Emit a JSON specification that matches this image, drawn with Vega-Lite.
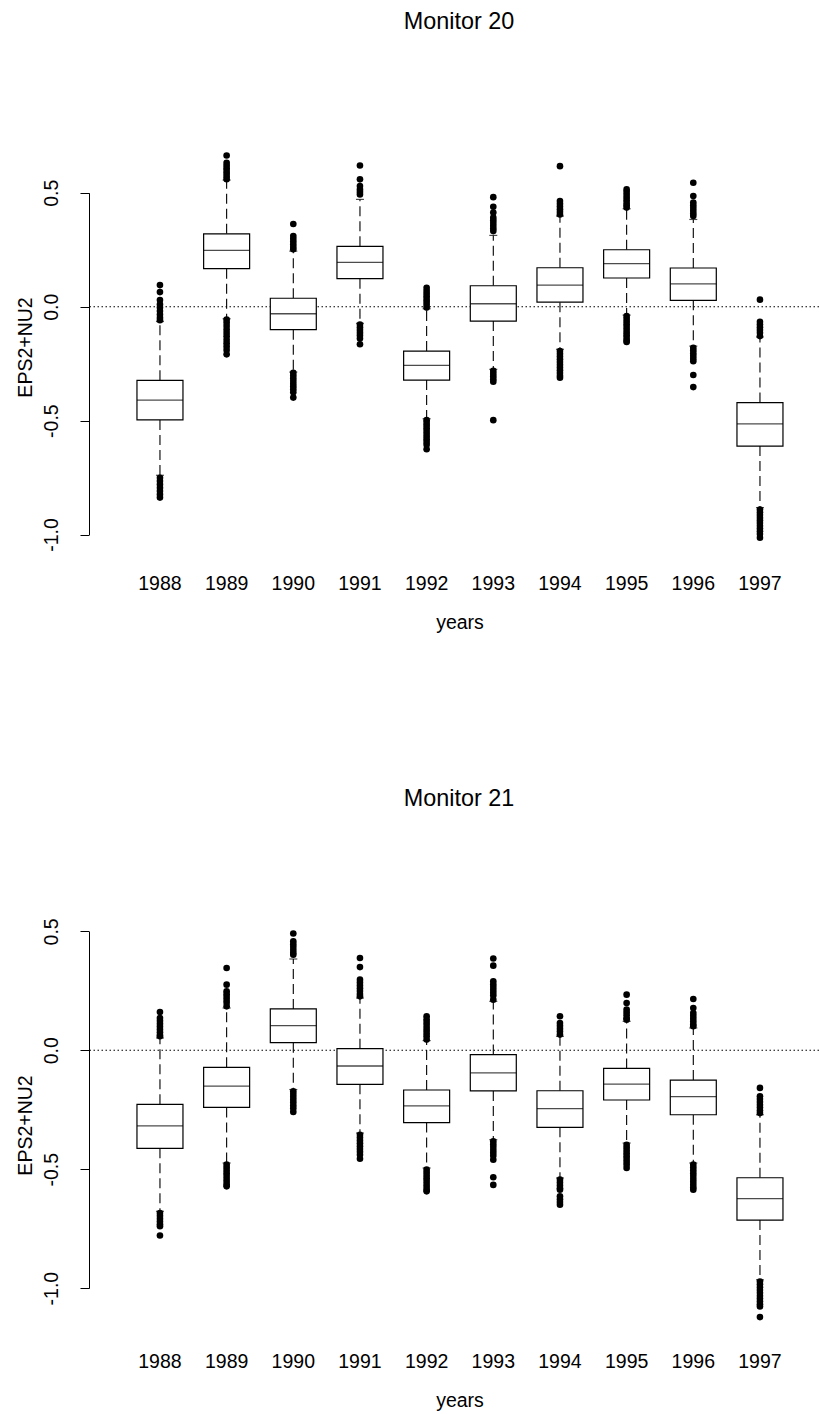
{
  "$schema": "https://vega.github.io/schema/vega-lite/v6.json",
  "padding": {"left": 15, "top": 9, "right": 0, "bottom": 0},
  "spacing": 154,
  "background": "white",
  "config": {
    "view": {"stroke": null},
    "font": "Liberation Sans",
    "axis": {
      "labelFont": "Liberation Sans", "titleFont": "Liberation Sans",
      "labelFontSize": 19.5, "titleFontSize": 19.5,
      "labelColor": "black", "titleColor": "black", "titleFontWeight": "normal",
      "grid": false, "domainColor": "black", "tickColor": "black", "domainWidth": 1, "tickWidth": 1
    },
    "title": {"font": "Liberation Sans", "fontSize": 23.4, "fontWeight": "normal", "color": "black", "baseline": "top", "anchor": "middle", "dx": 5}
  },
  "datasets": {
    "boxes": [
      {"panel": "Monitor 20", "year": "1988", "lo": -0.740, "q1": -0.497, "med": -0.410, "q3": -0.323, "hi": -0.065},
      {"panel": "Monitor 20", "year": "1989", "lo": -0.053, "q1": 0.167, "med": 0.247, "q3": 0.320, "hi": 0.556},
      {"panel": "Monitor 20", "year": "1990", "lo": -0.287, "q1": -0.101, "med": -0.031, "q3": 0.037, "hi": 0.244},
      {"panel": "Monitor 20", "year": "1991", "lo": -0.073, "q1": 0.123, "med": 0.195, "q3": 0.265, "hi": 0.471},
      {"panel": "Monitor 20", "year": "1992", "lo": -0.492, "q1": -0.322, "med": -0.258, "q3": -0.195, "hi": -0.009},
      {"panel": "Monitor 20", "year": "1993", "lo": -0.275, "q1": -0.063, "med": 0.013, "q3": 0.092, "hi": 0.313},
      {"panel": "Monitor 20", "year": "1994", "lo": -0.187, "q1": 0.020, "med": 0.095, "q3": 0.171, "hi": 0.398},
      {"panel": "Monitor 20", "year": "1995", "lo": -0.037, "q1": 0.126, "med": 0.189, "q3": 0.250, "hi": 0.430},
      {"panel": "Monitor 20", "year": "1996", "lo": -0.173, "q1": 0.028, "med": 0.100, "q3": 0.170, "hi": 0.383},
      {"panel": "Monitor 20", "year": "1997", "lo": -0.882, "q1": -0.612, "med": -0.514, "q3": -0.421, "hi": -0.133},
      {"panel": "Monitor 21", "year": "1988", "lo": -0.677, "q1": -0.412, "med": -0.318, "q3": -0.227, "hi": 0.052},
      {"panel": "Monitor 21", "year": "1989", "lo": -0.474, "q1": -0.240, "med": -0.151, "q3": -0.0715, "hi": 0.178},
      {"panel": "Monitor 21", "year": "1990", "lo": -0.165, "q1": 0.032, "med": 0.104, "q3": 0.174, "hi": 0.384},
      {"panel": "Monitor 21", "year": "1991", "lo": -0.348, "q1": -0.143, "med": -0.066, "q3": 0.007, "hi": 0.220},
      {"panel": "Monitor 21", "year": "1992", "lo": -0.495, "q1": -0.304, "med": -0.234, "q3": -0.167, "hi": 0.041},
      {"panel": "Monitor 21", "year": "1993", "lo": -0.376, "q1": -0.171, "med": -0.095, "q3": -0.018, "hi": 0.206},
      {"panel": "Monitor 21", "year": "1994", "lo": -0.537, "q1": -0.324, "med": -0.245, "q3": -0.170, "hi": 0.059},
      {"panel": "Monitor 21", "year": "1995", "lo": -0.390, "q1": -0.209, "med": -0.142, "q3": -0.076, "hi": 0.122},
      {"panel": "Monitor 21", "year": "1996", "lo": -0.474, "q1": -0.271, "med": -0.195, "q3": -0.125, "hi": 0.094},
      {"panel": "Monitor 21", "year": "1997", "lo": -0.965, "q1": -0.714, "med": -0.624, "q3": -0.536, "hi": -0.271}
    ],
    "outliers": [
      {"panel": "Monitor 20", "year": "1988", "v": 0.095}, {"panel": "Monitor 20", "year": "1988", "v": 0.064}, {"panel": "Monitor 20", "year": "1988", "v": 0.029}, {"panel": "Monitor 20", "year": "1988", "v": 0.010}, {"panel": "Monitor 20", "year": "1988", "v": -0.004}, {"panel": "Monitor 20", "year": "1988", "v": -0.019}, {"panel": "Monitor 20", "year": "1988", "v": -0.034}, {"panel": "Monitor 20", "year": "1988", "v": -0.048}, {"panel": "Monitor 20", "year": "1988", "v": -0.059},
      {"panel": "Monitor 20", "year": "1988", "v": -0.751}, {"panel": "Monitor 20", "year": "1988", "v": -0.765}, {"panel": "Monitor 20", "year": "1988", "v": -0.780}, {"panel": "Monitor 20", "year": "1988", "v": -0.795}, {"panel": "Monitor 20", "year": "1988", "v": -0.809}, {"panel": "Monitor 20", "year": "1988", "v": -0.824}, {"panel": "Monitor 20", "year": "1988", "v": -0.838},
      {"panel": "Monitor 20", "year": "1989", "v": 0.664}, {"panel": "Monitor 20", "year": "1989", "v": 0.632}, {"panel": "Monitor 20", "year": "1989", "v": 0.620}, {"panel": "Monitor 20", "year": "1989", "v": 0.608}, {"panel": "Monitor 20", "year": "1989", "v": 0.596}, {"panel": "Monitor 20", "year": "1989", "v": 0.584}, {"panel": "Monitor 20", "year": "1989", "v": 0.572}, {"panel": "Monitor 20", "year": "1989", "v": 0.560},
      {"panel": "Monitor 20", "year": "1989", "v": -0.056}, {"panel": "Monitor 20", "year": "1989", "v": -0.070}, {"panel": "Monitor 20", "year": "1989", "v": -0.085}, {"panel": "Monitor 20", "year": "1989", "v": -0.100}, {"panel": "Monitor 20", "year": "1989", "v": -0.115}, {"panel": "Monitor 20", "year": "1989", "v": -0.130}, {"panel": "Monitor 20", "year": "1989", "v": -0.145}, {"panel": "Monitor 20", "year": "1989", "v": -0.160}, {"panel": "Monitor 20", "year": "1989", "v": -0.175}, {"panel": "Monitor 20", "year": "1989", "v": -0.190}, {"panel": "Monitor 20", "year": "1989", "v": -0.209},
      {"panel": "Monitor 20", "year": "1990", "v": 0.363}, {"panel": "Monitor 20", "year": "1990", "v": 0.310}, {"panel": "Monitor 20", "year": "1990", "v": 0.298}, {"panel": "Monitor 20", "year": "1990", "v": 0.286}, {"panel": "Monitor 20", "year": "1990", "v": 0.274}, {"panel": "Monitor 20", "year": "1990", "v": 0.262}, {"panel": "Monitor 20", "year": "1990", "v": 0.252},
      {"panel": "Monitor 20", "year": "1990", "v": -0.290}, {"panel": "Monitor 20", "year": "1990", "v": -0.302}, {"panel": "Monitor 20", "year": "1990", "v": -0.314}, {"panel": "Monitor 20", "year": "1990", "v": -0.326}, {"panel": "Monitor 20", "year": "1990", "v": -0.338}, {"panel": "Monitor 20", "year": "1990", "v": -0.350}, {"panel": "Monitor 20", "year": "1990", "v": -0.362}, {"panel": "Monitor 20", "year": "1990", "v": -0.375}, {"panel": "Monitor 20", "year": "1990", "v": -0.399},
      {"panel": "Monitor 20", "year": "1991", "v": 0.620}, {"panel": "Monitor 20", "year": "1991", "v": 0.559}, {"panel": "Monitor 20", "year": "1991", "v": 0.530}, {"panel": "Monitor 20", "year": "1991", "v": 0.515}, {"panel": "Monitor 20", "year": "1991", "v": 0.504}, {"panel": "Monitor 20", "year": "1991", "v": 0.493},
      {"panel": "Monitor 20", "year": "1991", "v": -0.078}, {"panel": "Monitor 20", "year": "1991", "v": -0.090}, {"panel": "Monitor 20", "year": "1991", "v": -0.102}, {"panel": "Monitor 20", "year": "1991", "v": -0.114}, {"panel": "Monitor 20", "year": "1991", "v": -0.126}, {"panel": "Monitor 20", "year": "1991", "v": -0.140}, {"panel": "Monitor 20", "year": "1991", "v": -0.165},
      {"panel": "Monitor 20", "year": "1992", "v": 0.083}, {"panel": "Monitor 20", "year": "1992", "v": 0.070}, {"panel": "Monitor 20", "year": "1992", "v": 0.058}, {"panel": "Monitor 20", "year": "1992", "v": 0.046}, {"panel": "Monitor 20", "year": "1992", "v": 0.034}, {"panel": "Monitor 20", "year": "1992", "v": 0.022}, {"panel": "Monitor 20", "year": "1992", "v": 0.010}, {"panel": "Monitor 20", "year": "1992", "v": -0.004},
      {"panel": "Monitor 20", "year": "1992", "v": -0.498}, {"panel": "Monitor 20", "year": "1992", "v": -0.510}, {"panel": "Monitor 20", "year": "1992", "v": -0.522}, {"panel": "Monitor 20", "year": "1992", "v": -0.534}, {"panel": "Monitor 20", "year": "1992", "v": -0.546}, {"panel": "Monitor 20", "year": "1992", "v": -0.558}, {"panel": "Monitor 20", "year": "1992", "v": -0.570}, {"panel": "Monitor 20", "year": "1992", "v": -0.582}, {"panel": "Monitor 20", "year": "1992", "v": -0.594}, {"panel": "Monitor 20", "year": "1992", "v": -0.606}, {"panel": "Monitor 20", "year": "1992", "v": -0.626},
      {"panel": "Monitor 20", "year": "1993", "v": 0.481}, {"panel": "Monitor 20", "year": "1993", "v": 0.439}, {"panel": "Monitor 20", "year": "1993", "v": 0.413}, {"panel": "Monitor 20", "year": "1993", "v": 0.391}, {"panel": "Monitor 20", "year": "1993", "v": 0.379}, {"panel": "Monitor 20", "year": "1993", "v": 0.367}, {"panel": "Monitor 20", "year": "1993", "v": 0.355}, {"panel": "Monitor 20", "year": "1993", "v": 0.343}, {"panel": "Monitor 20", "year": "1993", "v": 0.332},
      {"panel": "Monitor 20", "year": "1993", "v": -0.282}, {"panel": "Monitor 20", "year": "1993", "v": -0.294}, {"panel": "Monitor 20", "year": "1993", "v": -0.306}, {"panel": "Monitor 20", "year": "1993", "v": -0.318}, {"panel": "Monitor 20", "year": "1993", "v": -0.329}, {"panel": "Monitor 20", "year": "1993", "v": -0.498},
      {"panel": "Monitor 20", "year": "1994", "v": 0.617}, {"panel": "Monitor 20", "year": "1994", "v": 0.464}, {"panel": "Monitor 20", "year": "1994", "v": 0.452}, {"panel": "Monitor 20", "year": "1994", "v": 0.440}, {"panel": "Monitor 20", "year": "1994", "v": 0.428}, {"panel": "Monitor 20", "year": "1994", "v": 0.416}, {"panel": "Monitor 20", "year": "1994", "v": 0.405},
      {"panel": "Monitor 20", "year": "1994", "v": -0.195}, {"panel": "Monitor 20", "year": "1994", "v": -0.207}, {"panel": "Monitor 20", "year": "1994", "v": -0.219}, {"panel": "Monitor 20", "year": "1994", "v": -0.231}, {"panel": "Monitor 20", "year": "1994", "v": -0.243}, {"panel": "Monitor 20", "year": "1994", "v": -0.255}, {"panel": "Monitor 20", "year": "1994", "v": -0.267}, {"panel": "Monitor 20", "year": "1994", "v": -0.279}, {"panel": "Monitor 20", "year": "1994", "v": -0.291}, {"panel": "Monitor 20", "year": "1994", "v": -0.303}, {"panel": "Monitor 20", "year": "1994", "v": -0.312},
      {"panel": "Monitor 20", "year": "1995", "v": 0.515}, {"panel": "Monitor 20", "year": "1995", "v": 0.503}, {"panel": "Monitor 20", "year": "1995", "v": 0.491}, {"panel": "Monitor 20", "year": "1995", "v": 0.479}, {"panel": "Monitor 20", "year": "1995", "v": 0.467}, {"panel": "Monitor 20", "year": "1995", "v": 0.455}, {"panel": "Monitor 20", "year": "1995", "v": 0.445}, {"panel": "Monitor 20", "year": "1995", "v": 0.435},
      {"panel": "Monitor 20", "year": "1995", "v": -0.041}, {"panel": "Monitor 20", "year": "1995", "v": -0.053}, {"panel": "Monitor 20", "year": "1995", "v": -0.065}, {"panel": "Monitor 20", "year": "1995", "v": -0.077}, {"panel": "Monitor 20", "year": "1995", "v": -0.089}, {"panel": "Monitor 20", "year": "1995", "v": -0.101}, {"panel": "Monitor 20", "year": "1995", "v": -0.113}, {"panel": "Monitor 20", "year": "1995", "v": -0.125}, {"panel": "Monitor 20", "year": "1995", "v": -0.137}, {"panel": "Monitor 20", "year": "1995", "v": -0.149}, {"panel": "Monitor 20", "year": "1995", "v": -0.155},
      {"panel": "Monitor 20", "year": "1996", "v": 0.544}, {"panel": "Monitor 20", "year": "1996", "v": 0.486}, {"panel": "Monitor 20", "year": "1996", "v": 0.457}, {"panel": "Monitor 20", "year": "1996", "v": 0.445}, {"panel": "Monitor 20", "year": "1996", "v": 0.433}, {"panel": "Monitor 20", "year": "1996", "v": 0.421}, {"panel": "Monitor 20", "year": "1996", "v": 0.409}, {"panel": "Monitor 20", "year": "1996", "v": 0.398},
      {"panel": "Monitor 20", "year": "1996", "v": -0.180}, {"panel": "Monitor 20", "year": "1996", "v": -0.192}, {"panel": "Monitor 20", "year": "1996", "v": -0.204}, {"panel": "Monitor 20", "year": "1996", "v": -0.216}, {"panel": "Monitor 20", "year": "1996", "v": -0.228}, {"panel": "Monitor 20", "year": "1996", "v": -0.239}, {"panel": "Monitor 20", "year": "1996", "v": -0.300}, {"panel": "Monitor 20", "year": "1996", "v": -0.353},
      {"panel": "Monitor 20", "year": "1997", "v": 0.031}, {"panel": "Monitor 20", "year": "1997", "v": -0.066}, {"panel": "Monitor 20", "year": "1997", "v": -0.078}, {"panel": "Monitor 20", "year": "1997", "v": -0.090}, {"panel": "Monitor 20", "year": "1997", "v": -0.102}, {"panel": "Monitor 20", "year": "1997", "v": -0.114}, {"panel": "Monitor 20", "year": "1997", "v": -0.129},
      {"panel": "Monitor 20", "year": "1997", "v": -0.890}, {"panel": "Monitor 20", "year": "1997", "v": -0.902}, {"panel": "Monitor 20", "year": "1997", "v": -0.914}, {"panel": "Monitor 20", "year": "1997", "v": -0.926}, {"panel": "Monitor 20", "year": "1997", "v": -0.938}, {"panel": "Monitor 20", "year": "1997", "v": -0.950}, {"panel": "Monitor 20", "year": "1997", "v": -0.962}, {"panel": "Monitor 20", "year": "1997", "v": -0.974}, {"panel": "Monitor 20", "year": "1997", "v": -0.986}, {"panel": "Monitor 20", "year": "1997", "v": -0.998}, {"panel": "Monitor 20", "year": "1997", "v": -1.014},

      {"panel": "Monitor 21", "year": "1988", "v": 0.161}, {"panel": "Monitor 21", "year": "1988", "v": 0.136}, {"panel": "Monitor 21", "year": "1988", "v": 0.124}, {"panel": "Monitor 21", "year": "1988", "v": 0.112}, {"panel": "Monitor 21", "year": "1988", "v": 0.100}, {"panel": "Monitor 21", "year": "1988", "v": 0.088}, {"panel": "Monitor 21", "year": "1988", "v": 0.076}, {"panel": "Monitor 21", "year": "1988", "v": 0.064}, {"panel": "Monitor 21", "year": "1988", "v": 0.059},
      {"panel": "Monitor 21", "year": "1988", "v": -0.684}, {"panel": "Monitor 21", "year": "1988", "v": -0.696}, {"panel": "Monitor 21", "year": "1988", "v": -0.708}, {"panel": "Monitor 21", "year": "1988", "v": -0.720}, {"panel": "Monitor 21", "year": "1988", "v": -0.732}, {"panel": "Monitor 21", "year": "1988", "v": -0.740}, {"panel": "Monitor 21", "year": "1988", "v": -0.779},
      {"panel": "Monitor 21", "year": "1989", "v": 0.346}, {"panel": "Monitor 21", "year": "1989", "v": 0.276}, {"panel": "Monitor 21", "year": "1989", "v": 0.248}, {"panel": "Monitor 21", "year": "1989", "v": 0.236}, {"panel": "Monitor 21", "year": "1989", "v": 0.224}, {"panel": "Monitor 21", "year": "1989", "v": 0.212}, {"panel": "Monitor 21", "year": "1989", "v": 0.200}, {"panel": "Monitor 21", "year": "1989", "v": 0.185},
      {"panel": "Monitor 21", "year": "1989", "v": -0.481}, {"panel": "Monitor 21", "year": "1989", "v": -0.493}, {"panel": "Monitor 21", "year": "1989", "v": -0.505}, {"panel": "Monitor 21", "year": "1989", "v": -0.517}, {"panel": "Monitor 21", "year": "1989", "v": -0.529}, {"panel": "Monitor 21", "year": "1989", "v": -0.541}, {"panel": "Monitor 21", "year": "1989", "v": -0.553}, {"panel": "Monitor 21", "year": "1989", "v": -0.565}, {"panel": "Monitor 21", "year": "1989", "v": -0.572},
      {"panel": "Monitor 21", "year": "1990", "v": 0.491}, {"panel": "Monitor 21", "year": "1990", "v": 0.458}, {"panel": "Monitor 21", "year": "1990", "v": 0.446}, {"panel": "Monitor 21", "year": "1990", "v": 0.434}, {"panel": "Monitor 21", "year": "1990", "v": 0.422}, {"panel": "Monitor 21", "year": "1990", "v": 0.410}, {"panel": "Monitor 21", "year": "1990", "v": 0.402},
      {"panel": "Monitor 21", "year": "1990", "v": -0.172}, {"panel": "Monitor 21", "year": "1990", "v": -0.184}, {"panel": "Monitor 21", "year": "1990", "v": -0.196}, {"panel": "Monitor 21", "year": "1990", "v": -0.208}, {"panel": "Monitor 21", "year": "1990", "v": -0.220}, {"panel": "Monitor 21", "year": "1990", "v": -0.232}, {"panel": "Monitor 21", "year": "1990", "v": -0.244}, {"panel": "Monitor 21", "year": "1990", "v": -0.259},
      {"panel": "Monitor 21", "year": "1991", "v": 0.388}, {"panel": "Monitor 21", "year": "1991", "v": 0.350}, {"panel": "Monitor 21", "year": "1991", "v": 0.297}, {"panel": "Monitor 21", "year": "1991", "v": 0.285}, {"panel": "Monitor 21", "year": "1991", "v": 0.273}, {"panel": "Monitor 21", "year": "1991", "v": 0.261}, {"panel": "Monitor 21", "year": "1991", "v": 0.249}, {"panel": "Monitor 21", "year": "1991", "v": 0.237}, {"panel": "Monitor 21", "year": "1991", "v": 0.227},
      {"panel": "Monitor 21", "year": "1991", "v": -0.355}, {"panel": "Monitor 21", "year": "1991", "v": -0.367}, {"panel": "Monitor 21", "year": "1991", "v": -0.379}, {"panel": "Monitor 21", "year": "1991", "v": -0.391}, {"panel": "Monitor 21", "year": "1991", "v": -0.403}, {"panel": "Monitor 21", "year": "1991", "v": -0.415}, {"panel": "Monitor 21", "year": "1991", "v": -0.427}, {"panel": "Monitor 21", "year": "1991", "v": -0.439}, {"panel": "Monitor 21", "year": "1991", "v": -0.456},
      {"panel": "Monitor 21", "year": "1992", "v": 0.143}, {"panel": "Monitor 21", "year": "1992", "v": 0.131}, {"panel": "Monitor 21", "year": "1992", "v": 0.119}, {"panel": "Monitor 21", "year": "1992", "v": 0.107}, {"panel": "Monitor 21", "year": "1992", "v": 0.095}, {"panel": "Monitor 21", "year": "1992", "v": 0.083}, {"panel": "Monitor 21", "year": "1992", "v": 0.071}, {"panel": "Monitor 21", "year": "1992", "v": 0.059}, {"panel": "Monitor 21", "year": "1992", "v": 0.045},
      {"panel": "Monitor 21", "year": "1992", "v": -0.502}, {"panel": "Monitor 21", "year": "1992", "v": -0.514}, {"panel": "Monitor 21", "year": "1992", "v": -0.526}, {"panel": "Monitor 21", "year": "1992", "v": -0.538}, {"panel": "Monitor 21", "year": "1992", "v": -0.550}, {"panel": "Monitor 21", "year": "1992", "v": -0.562}, {"panel": "Monitor 21", "year": "1992", "v": -0.574}, {"panel": "Monitor 21", "year": "1992", "v": -0.586}, {"panel": "Monitor 21", "year": "1992", "v": -0.593},
      {"panel": "Monitor 21", "year": "1993", "v": 0.386}, {"panel": "Monitor 21", "year": "1993", "v": 0.356}, {"panel": "Monitor 21", "year": "1993", "v": 0.290}, {"panel": "Monitor 21", "year": "1993", "v": 0.278}, {"panel": "Monitor 21", "year": "1993", "v": 0.266}, {"panel": "Monitor 21", "year": "1993", "v": 0.254}, {"panel": "Monitor 21", "year": "1993", "v": 0.242}, {"panel": "Monitor 21", "year": "1993", "v": 0.230}, {"panel": "Monitor 21", "year": "1993", "v": 0.213},
      {"panel": "Monitor 21", "year": "1993", "v": -0.383}, {"panel": "Monitor 21", "year": "1993", "v": -0.395}, {"panel": "Monitor 21", "year": "1993", "v": -0.407}, {"panel": "Monitor 21", "year": "1993", "v": -0.419}, {"panel": "Monitor 21", "year": "1993", "v": -0.431}, {"panel": "Monitor 21", "year": "1993", "v": -0.443}, {"panel": "Monitor 21", "year": "1993", "v": -0.460}, {"panel": "Monitor 21", "year": "1993", "v": -0.534}, {"panel": "Monitor 21", "year": "1993", "v": -0.566},
      {"panel": "Monitor 21", "year": "1994", "v": 0.143}, {"panel": "Monitor 21", "year": "1994", "v": 0.115}, {"panel": "Monitor 21", "year": "1994", "v": 0.103}, {"panel": "Monitor 21", "year": "1994", "v": 0.091}, {"panel": "Monitor 21", "year": "1994", "v": 0.079}, {"panel": "Monitor 21", "year": "1994", "v": 0.066},
      {"panel": "Monitor 21", "year": "1994", "v": -0.544}, {"panel": "Monitor 21", "year": "1994", "v": -0.556}, {"panel": "Monitor 21", "year": "1994", "v": -0.568}, {"panel": "Monitor 21", "year": "1994", "v": -0.580}, {"panel": "Monitor 21", "year": "1994", "v": -0.586}, {"panel": "Monitor 21", "year": "1994", "v": -0.614}, {"panel": "Monitor 21", "year": "1994", "v": -0.626}, {"panel": "Monitor 21", "year": "1994", "v": -0.638}, {"panel": "Monitor 21", "year": "1994", "v": -0.649},
      {"panel": "Monitor 21", "year": "1995", "v": 0.234}, {"panel": "Monitor 21", "year": "1995", "v": 0.199}, {"panel": "Monitor 21", "year": "1995", "v": 0.171}, {"panel": "Monitor 21", "year": "1995", "v": 0.159}, {"panel": "Monitor 21", "year": "1995", "v": 0.147}, {"panel": "Monitor 21", "year": "1995", "v": 0.135}, {"panel": "Monitor 21", "year": "1995", "v": 0.129},
      {"panel": "Monitor 21", "year": "1995", "v": -0.397}, {"panel": "Monitor 21", "year": "1995", "v": -0.409}, {"panel": "Monitor 21", "year": "1995", "v": -0.421}, {"panel": "Monitor 21", "year": "1995", "v": -0.433}, {"panel": "Monitor 21", "year": "1995", "v": -0.445}, {"panel": "Monitor 21", "year": "1995", "v": -0.457}, {"panel": "Monitor 21", "year": "1995", "v": -0.469}, {"panel": "Monitor 21", "year": "1995", "v": -0.481}, {"panel": "Monitor 21", "year": "1995", "v": -0.495},
      {"panel": "Monitor 21", "year": "1996", "v": 0.216}, {"panel": "Monitor 21", "year": "1996", "v": 0.178}, {"panel": "Monitor 21", "year": "1996", "v": 0.157}, {"panel": "Monitor 21", "year": "1996", "v": 0.145}, {"panel": "Monitor 21", "year": "1996", "v": 0.133}, {"panel": "Monitor 21", "year": "1996", "v": 0.121}, {"panel": "Monitor 21", "year": "1996", "v": 0.109}, {"panel": "Monitor 21", "year": "1996", "v": 0.101},
      {"panel": "Monitor 21", "year": "1996", "v": -0.481}, {"panel": "Monitor 21", "year": "1996", "v": -0.493}, {"panel": "Monitor 21", "year": "1996", "v": -0.505}, {"panel": "Monitor 21", "year": "1996", "v": -0.517}, {"panel": "Monitor 21", "year": "1996", "v": -0.529}, {"panel": "Monitor 21", "year": "1996", "v": -0.541}, {"panel": "Monitor 21", "year": "1996", "v": -0.553}, {"panel": "Monitor 21", "year": "1996", "v": -0.565}, {"panel": "Monitor 21", "year": "1996", "v": -0.577}, {"panel": "Monitor 21", "year": "1996", "v": -0.586},
      {"panel": "Monitor 21", "year": "1997", "v": -0.158}, {"panel": "Monitor 21", "year": "1997", "v": -0.193}, {"panel": "Monitor 21", "year": "1997", "v": -0.205}, {"panel": "Monitor 21", "year": "1997", "v": -0.217}, {"panel": "Monitor 21", "year": "1997", "v": -0.229}, {"panel": "Monitor 21", "year": "1997", "v": -0.241}, {"panel": "Monitor 21", "year": "1997", "v": -0.253}, {"panel": "Monitor 21", "year": "1997", "v": -0.264},
      {"panel": "Monitor 21", "year": "1997", "v": -0.972}, {"panel": "Monitor 21", "year": "1997", "v": -0.984}, {"panel": "Monitor 21", "year": "1997", "v": -0.996}, {"panel": "Monitor 21", "year": "1997", "v": -1.008}, {"panel": "Monitor 21", "year": "1997", "v": -1.020}, {"panel": "Monitor 21", "year": "1997", "v": -1.032}, {"panel": "Monitor 21", "year": "1997", "v": -1.044}, {"panel": "Monitor 21", "year": "1997", "v": -1.056}, {"panel": "Monitor 21", "year": "1997", "v": -1.068}, {"panel": "Monitor 21", "year": "1997", "v": -1.077}, {"panel": "Monitor 21", "year": "1997", "v": -1.122}
    ]
  },
  "vconcat": [
    {
      "title": {"text": "Monitor 20", "offset": 106},
      "width": 730, "height": 414,
      "layer": [
        {
          "data": {"values": [{"ref": 0}]},
          "mark": {"type": "rule", "color": "black", "strokeWidth": 1.1, "strokeDash": [1.5, 2.5]},
          "encoding": {"y": {"field": "ref", "type": "quantitative", "scale": {"domain": [-1.0856, 0.7318], "nice": false, "zero": false},
            "axis": {"title": "EPS2+NU2", "values": [-1, -0.5, 0, 0.5], "labelExpr": "replace(format(datum.value, '.1f'), '\u2212', '-')", "labelAngle": -90, "labelAlign": "center", "labelBaseline": "bottom", "tickSize": 9, "labelPadding": 19, "titlePadding": 5.5, "domainDash": [0, 19.5, 341.7, 600]}}}
        },
        {
          "data": {"name": "boxes"}, "transform": [{"filter": "datum.panel === 'Monitor 20'"}],
          "mark": {"type": "rule", "color": "black", "strokeWidth": 1.1, "strokeDash": [10, 5]},
          "encoding": {
            "x": {"field": "year", "type": "nominal", "scale": {"paddingInner": 0.31, "paddingOuter": 0.63, "align": 0.571},
              "axis": {"title": "years", "domain": false, "ticks": false, "tickSize": 0, "labelAngle": 0, "labelPadding": 20.7, "titlePadding": 20.4, "titleX": 370.5}},
            "y": {"field": "q1", "type": "quantitative"}, "y2": {"field": "lo"}
          }
        },
        {
          "data": {"name": "boxes"}, "transform": [{"filter": "datum.panel === 'Monitor 20'"}],
          "mark": {"type": "rule", "color": "black", "strokeWidth": 1.1, "strokeDash": [10, 5]},
          "encoding": {"x": {"field": "year", "type": "nominal"}, "y": {"field": "q3", "type": "quantitative"}, "y2": {"field": "hi"}}
        },
        {
          "data": {"name": "boxes"}, "transform": [{"filter": "datum.panel === 'Monitor 20'"}],
          "mark": {"type": "tick", "color": "black", "size": 8, "thickness": 1.2, "orient": "horizontal"},
          "encoding": {"x": {"field": "year", "type": "nominal"}, "y": {"field": "lo", "type": "quantitative"}}
        },
        {
          "data": {"name": "boxes"}, "transform": [{"filter": "datum.panel === 'Monitor 20'"}],
          "mark": {"type": "tick", "color": "black", "size": 8, "thickness": 1.2, "orient": "horizontal"},
          "encoding": {"x": {"field": "year", "type": "nominal"}, "y": {"field": "hi", "type": "quantitative"}}
        },
        {
          "data": {"name": "boxes"}, "transform": [{"filter": "datum.panel === 'Monitor 20'"}],
          "mark": {"type": "bar", "fill": "white", "stroke": "black", "strokeWidth": 1.2},
          "encoding": {"x": {"field": "year", "type": "nominal"}, "y": {"field": "q1", "type": "quantitative"}, "y2": {"field": "q3"}}
        },
        {
          "data": {"name": "boxes"}, "transform": [{"filter": "datum.panel === 'Monitor 20'"}],
          "mark": {"type": "tick", "color": "black", "size": 46, "thickness": 1.3, "orient": "horizontal"},
          "encoding": {"x": {"field": "year", "type": "nominal"}, "y": {"field": "med", "type": "quantitative"}}
        },
        {
          "data": {"name": "outliers"}, "transform": [{"filter": "datum.panel === 'Monitor 20'"}],
          "mark": {"type": "circle", "color": "black", "opacity": 1, "size": 44},
          "encoding": {"x": {"field": "year", "type": "nominal"}, "y": {"field": "v", "type": "quantitative"}}
        }
      ]
    },
    {
      "title": {"text": "Monitor 21", "offset": 106},
      "width": 730, "height": 414,
      "layer": [
        {
          "data": {"values": [{"ref": 0}]},
          "mark": {"type": "rule", "color": "black", "strokeWidth": 1.1, "strokeDash": [1.5, 2.5]},
          "encoding": {"y": {"field": "ref", "type": "quantitative", "scale": {"domain": [-1.1846, 0.5564], "nice": false, "zero": false},
            "axis": {"title": "EPS2+NU2", "values": [-1, -0.5, 0, 0.5], "labelExpr": "replace(format(datum.value, '.1f'), '\u2212', '-')", "labelAngle": -90, "labelAlign": "center", "labelBaseline": "bottom", "tickSize": 9, "labelPadding": 19, "titlePadding": 5.5, "domainDash": [0, 43.9, 356.7, 600]}}}
        },
        {
          "data": {"name": "boxes"}, "transform": [{"filter": "datum.panel === 'Monitor 21'"}],
          "mark": {"type": "rule", "color": "black", "strokeWidth": 1.1, "strokeDash": [10, 5]},
          "encoding": {
            "x": {"field": "year", "type": "nominal", "scale": {"paddingInner": 0.31, "paddingOuter": 0.63, "align": 0.571},
              "axis": {"title": "years", "domain": false, "ticks": false, "tickSize": 0, "labelAngle": 0, "labelPadding": 20.7, "titlePadding": 20.4, "titleX": 370.5}},
            "y": {"field": "q1", "type": "quantitative"}, "y2": {"field": "lo"}
          }
        },
        {
          "data": {"name": "boxes"}, "transform": [{"filter": "datum.panel === 'Monitor 21'"}],
          "mark": {"type": "rule", "color": "black", "strokeWidth": 1.1, "strokeDash": [10, 5]},
          "encoding": {"x": {"field": "year", "type": "nominal"}, "y": {"field": "q3", "type": "quantitative"}, "y2": {"field": "hi"}}
        },
        {
          "data": {"name": "boxes"}, "transform": [{"filter": "datum.panel === 'Monitor 21'"}],
          "mark": {"type": "tick", "color": "black", "size": 8, "thickness": 1.2, "orient": "horizontal"},
          "encoding": {"x": {"field": "year", "type": "nominal"}, "y": {"field": "lo", "type": "quantitative"}}
        },
        {
          "data": {"name": "boxes"}, "transform": [{"filter": "datum.panel === 'Monitor 21'"}],
          "mark": {"type": "tick", "color": "black", "size": 8, "thickness": 1.2, "orient": "horizontal"},
          "encoding": {"x": {"field": "year", "type": "nominal"}, "y": {"field": "hi", "type": "quantitative"}}
        },
        {
          "data": {"name": "boxes"}, "transform": [{"filter": "datum.panel === 'Monitor 21'"}],
          "mark": {"type": "bar", "fill": "white", "stroke": "black", "strokeWidth": 1.2},
          "encoding": {"x": {"field": "year", "type": "nominal"}, "y": {"field": "q1", "type": "quantitative"}, "y2": {"field": "q3"}}
        },
        {
          "data": {"name": "boxes"}, "transform": [{"filter": "datum.panel === 'Monitor 21'"}],
          "mark": {"type": "tick", "color": "black", "size": 46, "thickness": 1.3, "orient": "horizontal"},
          "encoding": {"x": {"field": "year", "type": "nominal"}, "y": {"field": "med", "type": "quantitative"}}
        },
        {
          "data": {"name": "outliers"}, "transform": [{"filter": "datum.panel === 'Monitor 21'"}],
          "mark": {"type": "circle", "color": "black", "opacity": 1, "size": 44},
          "encoding": {"x": {"field": "year", "type": "nominal"}, "y": {"field": "v", "type": "quantitative"}}
        }
      ]
    }
  ]
}
